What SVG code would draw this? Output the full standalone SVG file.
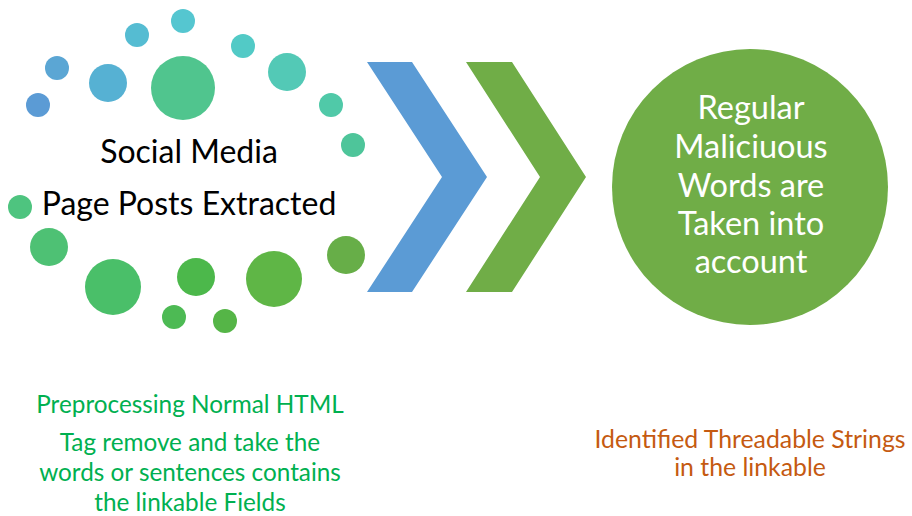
<svg xmlns="http://www.w3.org/2000/svg" width="912" height="516" viewBox="0 0 912 516">
<style>
text{font-family:Lato,"Liberation Sans",sans-serif;text-anchor:middle}
.big{font-size:32px;fill:#000}
.wt{font-size:32.5px;fill:#fff}
.gt{font-size:24.3px;fill:#00B050}
.ot{font-size:24.8px;fill:#C55A11}
</style>
<rect width="912" height="516" fill="#fff"/>
<g id="dots">
<circle cx="183" cy="21" r="12" fill="#55C6D0"/>
<circle cx="137" cy="35" r="12" fill="#55BCD2"/>
<circle cx="243" cy="46" r="12" fill="#52CAC6"/>
<circle cx="57" cy="68" r="12" fill="#5BA6D4"/>
<circle cx="108" cy="83" r="19" fill="#56B1D3"/>
<circle cx="183" cy="88" r="32" fill="#50C58E"/>
<circle cx="287" cy="72" r="19" fill="#53C9B6"/>
<circle cx="38" cy="105" r="12" fill="#5B9BD5"/>
<circle cx="331" cy="105" r="12" fill="#50C9A8"/>
<circle cx="353" cy="145" r="12" fill="#4EC59A"/>
<circle cx="20" cy="207" r="12" fill="#4EC47F"/>
<circle cx="49" cy="247" r="19" fill="#4EC174"/>
<circle cx="113" cy="287" r="28" fill="#4ABF69"/>
<circle cx="196" cy="277" r="19" fill="#4CB84B"/>
<circle cx="274" cy="279" r="28" fill="#5FB646"/>
<circle cx="346" cy="255" r="19" fill="#67AE48"/>
<circle cx="174" cy="317" r="12" fill="#4DBA54"/>
<circle cx="225" cy="321" r="12" fill="#55B547"/>
</g>
<g id="source-label">
<text class="big" x="189" y="163">Social Media</text>
<text class="big" x="189" y="215">Page Posts Extracted</text>
</g>
<g id="connectors">
<polygon points="367,62 412,62 487,177 412,292 367,292 442,177" fill="#5B9BD5"/>
<polygon points="466,62 512,62 586,177 512,292 466,292 540,177" fill="#70AD47"/>
</g>
<g id="result">
<circle cx="750" cy="187" r="138" fill="#70AD47"/>
<text class="wt" x="751" y="119">Regular</text>
<text class="wt" x="751" y="158">Maliciuous</text>
<text class="wt" x="751" y="197">Words are</text>
<text class="wt" x="751" y="235">Taken into</text>
<text class="wt" x="751" y="273">account</text>
</g>
<g id="preprocessing-note">
<text class="gt" x="190" y="413">Preprocessing Normal HTML</text>
<text class="gt" x="190" y="451">Tag remove and take the</text>
<text class="gt" x="190" y="481">words or sentences contains</text>
<text class="gt" x="190" y="511">the linkable Fields</text>
</g>
<g id="output-note">
<text class="ot" x="750" y="448">Identified Threadable Strings</text>
<text class="ot" x="750" y="476">in the linkable</text>
</g>
</svg>
